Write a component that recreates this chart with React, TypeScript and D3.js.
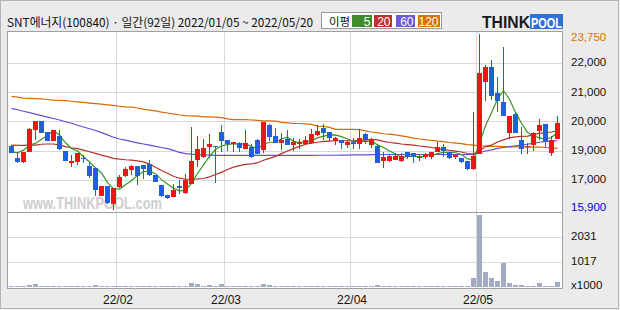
import React from 'react';
import * as d3 from 'd3';

const TITLE = 'SNT에너지(100840) · 일간(92일) 2022/01/05 ~ 2022/05/20';
const WATERMARK = 'www.THINKPOOL.com';
const MA_PERIODS = ['5', '20', '60', '120'];
const MONTH_LABELS = ['22/02', '22/03', '22/04', '22/05'];
const MONTH_START_INDEX = [18, 36, 57, 78];
const PRICE_MAX = 23750;
const PRICE_MIN = 15900;
const PRICE_TICKS = [17000, 19000, 20000, 21000, 22000];
const VOLUME_TICKS = [1017, 2031];
const VOLUME_TOP = 3000;
const VOLUME_UNIT = 'x1000';

const OPEN = [19170,18540,18260,18950,19710,20020,19640,19350,19510,19000,
18190,18260,18540,17970,17850,16400,16780,16120,16750,17300,
17690,17970,18030,18080,17340,16810,16430,16370,16770,16520,
16860,18380,18610,19130,19170,19640,19370,19240,19260,19080,
19150,19370,19030,19880,19510,19280,19410,19200,19240,19230,
19260,19540,19800,19640,19350,19370,19200,19320,19240,19580,
19200,19170,18330,18290,18380,18330,18910,18840,18500,18570,
18610,18950,19130,18910,18570,18500,18330,17740,18790,21370,
21860,20990,20680,19600,20260,19370,19140,19200,19690,19910,
18880,19400];
const HIGH = [19200,18950,18950,19780,20030,20030,19650,19730,19710,19010,
18720,18860,18720,18190,17870,16800,16800,16710,17340,17920,
18030,17990,18050,18380,17350,16820,16450,16850,17000,17410,
19810,19510,19400,19580,19180,19880,19380,19310,19320,19710,
19230,19420,20000,19940,19800,19600,19710,19450,19410,19510,
19740,19880,19920,19650,19480,19380,19370,19430,19740,19600,
19460,19240,18950,18700,18840,18840,18940,18880,18790,18860,
18950,19320,19240,18950,18790,18520,18350,20340,23750,21950,
22210,21540,22960,20200,20320,19820,19260,19660,20110,19920,
19510,20190];
const LOW = [18830,18190,18200,18950,19370,19600,19330,19340,19050,18320,
17920,18030,18150,17120,16400,16390,16090,15900,16690,17230,
17340,16810,17070,17300,16930,16370,16300,16360,16500,16500,
16850,17920,18540,18540,16880,18950,19010,18950,18950,19070,
18500,18770,18880,19350,19280,19030,19200,19010,19070,19220,
19250,19510,19370,19340,19200,19070,19090,19070,19070,19240,
19090,18190,17810,18270,18380,18260,18450,18190,18330,18450,
18450,18950,18610,18470,18470,18190,17690,17720,18790,20720,
20740,20340,20200,19410,19600,18790,18790,19010,19370,19150,
18660,19400];
const CLOSE = [18880,18260,18950,19760,20020,19620,19350,19710,19060,18330,
18310,18840,18470,17300,16620,16770,16150,16690,17230,17740,
17970,17300,17760,17340,16940,16400,16330,16650,16690,17050,
18310,19070,19110,19240,19150,19340,19240,19300,19110,19260,
18610,18790,19990,19490,19280,19370,19200,19320,19300,19370,
19580,19680,19620,19430,19430,19260,19320,19230,19430,19370,
19410,18190,18610,18680,18680,18680,18610,18570,18610,18770,
18910,19130,19000,18540,18720,18260,17740,18660,21650,21860,
20890,20720,20200,20190,19600,19060,19160,19600,19880,19320,
19370,19970];
const VOLUME = [40,35,45,80,130,40,35,40,45,38,
42,36,35,40,90,45,40,50,38,35,
36,34,33,35,38,40,36,38,35,42,
175,125,45,90,50,125,40,36,35,38,
40,42,125,90,40,38,36,35,34,36,
38,35,36,33,34,35,32,33,36,34,
35,90,45,38,36,35,34,33,35,36,
34,40,36,35,33,34,38,345,2935,590,
345,225,965,155,100,100,60,60,155,60,
60,195];
const MA5 = [18950,18880,19030,19200,19260,19400,19540,19690,19550,19280,
19090,19000,18610,18250,17850,17500,16910,16680,16670,16830,
16980,17330,17600,17620,17450,17040,16860,16700,16600,16620,
16880,17460,18030,18640,19050,19180,19220,19250,19230,19250,
19150,19080,19220,19300,19300,19410,19470,19330,19290,19310,
19350,19450,19510,19540,19550,19490,19410,19330,19330,19320,
19350,19210,19120,19000,18790,18550,18630,18630,18620,18640,
18690,18820,18910,18900,18880,18760,18460,18390,19270,19860,
20310,20780,21060,20770,20320,19950,19630,19520,19450,19400,
19460,19630];
const MA20 = [19200,19190,19190,19200,19200,19230,19240,19240,19200,19150,
19110,19080,19030,18950,18840,18720,18610,18500,18440,18400,
18370,18320,18260,18100,17890,17670,17480,17270,17140,17070,
17070,17090,17120,17230,17390,17540,17740,17900,18000,18090,
18120,18200,18370,18500,18630,18820,19000,19080,19160,19230,
19270,19300,19330,19340,19350,19350,19350,19350,19370,19370,
19400,19380,19330,19290,19270,19240,19220,19200,19170,19150,
19120,19090,19060,19020,18990,18930,18830,18790,19010,19150,
19200,19310,19380,19450,19480,19500,19510,19550,19610,19630,
19650,19690];
const MA60 = [20460,20410,20360,20310,20260,20210,20160,20110,20060,20000,
19950,19880,19820,19760,19700,19630,19550,19470,19410,19370,
19320,19280,19240,19200,19160,19120,19080,19020,18900,18820,
18780,18750,18730,18720,18700,18700,18700,18700,18700,18700,
18700,18700,18700,18700,18700,18700,18700,18700,18700,18700,
18700,18710,18710,18710,18710,18720,18720,18730,18730,18740,
18750,18750,18760,18760,18760,18760,18760,18760,18760,18760,
18760,18760,18760,18760,18760,18760,18760,18760,18890,19000,
19040,19090,19120,19150,19180,19210,19230,19270,19300,19330,
19340,19350];
const MA120 = [20870,20840,20810,20800,20790,20780,20760,20740,20730,20720,
20700,20680,20660,20640,20620,20600,20580,20560,20530,20510,
20500,20470,20430,20400,20370,20330,20300,20270,20230,20210,
20200,20190,20170,20170,20160,20140,20100,20070,20070,20070,
20060,20050,20030,20030,20020,19980,19960,19940,19940,19930,
19910,19850,19840,19810,19740,19740,19740,19740,19730,19690,
19650,19620,19590,19580,19550,19520,19480,19440,19410,19390,
19360,19340,19320,19290,19270,19250,19220,19200,19180,19170,
19160,19160,19150,19140,19140,19140,19130,19130,19130,19120,
19110,19090];

const MA_SERIES = [MA5, MA20, MA60, MA120];
const MA_LINE_COLORS = ['#3a9424', '#b8302c', '#5e50d8', '#d56c00'];
const MA_BOX_COLORS = ['#3f8c2c', '#c0322c', '#6a5ad8', '#d87200'];
const UP = '#f01414';
const DOWN = '#1f5fe0';
const VOL_COLOR = '#a2abc3';
const GRID = '#d8d8d8';
const FRAME = '#a0a0a0';

export default function App() {
  const W = 620, H = 310;
  const L = 7, R = 562, T = 31, PB = 212, VB = 288;
  const n = CLOSE.length;
  const step = 6;
  const x = d3.scaleBand<number>().domain(d3.range(n)).range([9, 9 + step * n]).padding(0);
  const cx = (i: number) => (x(i) as number) + 2.5;

  const pDomain = [PRICE_MIN, ...PRICE_TICKS, PRICE_MAX];
  const yBottom = 209.5, yTop = 34;
  const y = d3.scaleLinear()
    .domain(pDomain)
    .range(pDomain.map((_, k) => yBottom - (k * (yBottom - yTop)) / (pDomain.length - 1)));
  const yv = d3.scaleLinear().domain([0, VOLUME_TOP]).range([287, 213]);
  const fmt = d3.format(',');

  const line = d3.line<number>().x((_, i) => cx(i)).y((v) => y(v));

  const rightLabels = [
    { v: PRICE_MAX, color: '#e07000' },
    ...PRICE_TICKS.slice().reverse().map((v) => ({ v, color: '#111' })),
    { v: PRICE_MIN, color: '#0000e6' },
  ];

  const font = "'Liberation Sans', Arial, sans-serif";
  const kfont = "'Noto Sans CJK KR', 'Liberation Sans', sans-serif";

  return (
    <svg width={W} height={H} style={{ position: 'absolute', left: 0, top: 0, display: 'block' }}
      xmlns="http://www.w3.org/2000/svg">
      <defs>
        <clipPath id="pclip"><rect x={L + 1} y={T + 1} width={R - L - 1} height={PB - T - 1} /></clipPath>
        <clipPath id="vclip"><rect x={L + 1} y={PB + 1} width={R - L - 1} height={VB - PB - 1} /></clipPath>
      </defs>
      <rect x={0} y={0} width={W} height={H} fill="#ebebeb" />
      <rect x={0.5} y={0.5} width={W - 2} height={H - 2} fill="none" stroke="#b4b4b4" />

      {/* header */}
      <text x={7} y={27} fontSize={12} fontFamily={kfont} fill="#111" textLength={306} lengthAdjust="spacingAndGlyphs">{TITLE}</text>
      <rect x={321.5} y={12.5} width={120} height={16} fill="#fff" stroke="#9a9a9a" />
      <text x={329} y={25.5} fontSize={11.5} fontFamily={kfont} fill="#111">이평</text>
      {[[352, 372], [374, 392], [396, 415], [418, 440]].map(([a, b], k) => (
        <g key={k}>
          <rect x={a} y={15} width={b - a} height={12} fill={MA_BOX_COLORS[k]} />
          <text x={b - 1.5} y={25.5} fontSize={12} fontFamily={font} fill="#fff" textAnchor="end">{MA_PERIODS[k]}</text>
        </g>
      ))}
      {/* logo */}
      <text x={482} y={28} fontSize={16} fontWeight={900} fontFamily={font} fill="#1a1a1a" textLength={48} lengthAdjust="spacingAndGlyphs">THINK</text>
      <rect x={530} y={14} width={33} height={15} fill="#2f6fd8" />
      <text x={531} y={27.5} fontSize={14.5} fontWeight={900} fontFamily={font} fill="#fff" textLength={31} lengthAdjust="spacingAndGlyphs">POOL</text>

      {/* plot background */}
      <rect x={L} y={T} width={R - L} height={VB - T} fill="#fff" />

      {/* watermark */}
      <text x={23} y={208.5} fill="#cdcdcd" fontFamily={font} fontWeight={900} fontSize={17}
        textLength={139} lengthAdjust="spacingAndGlyphs">{WATERMARK}</text>

      {/* grid */}
      <g stroke={GRID} strokeWidth={1} shapeRendering="crispEdges">
        {PRICE_TICKS.map((v) => (
          <line key={'p' + v} x1={L} x2={R} y1={Math.floor(y(v)) + 0.5} y2={Math.floor(y(v)) + 0.5} />
        ))}
        {VOLUME_TICKS.map((v) => (
          <line key={'v' + v} x1={L} x2={R} y1={Math.round(yv(v)) + 0.5} y2={Math.round(yv(v)) + 0.5} />
        ))}
        {MONTH_START_INDEX.map((i) => (
          <line key={'m' + i} x1={(x(i) as number) - 0.5} x2={(x(i) as number) - 0.5} y1={T} y2={VB} />
        ))}
      </g>

      {/* moving averages */}
      <g clipPath="url(#pclip)" fill="none" strokeWidth={1.2}>
        {MA_SERIES.slice().reverse().map((s, k) => (
          <path key={k} d={line(s) || ''} stroke={MA_LINE_COLORS[3 - k]} />
        ))}
      </g>

      {/* candles */}
      <g clipPath="url(#pclip)" shapeRendering="crispEdges">
        {CLOSE.map((c, i) => {
          const o = OPEN[i];
          const col = c >= o ? UP : DOWN;
          const top = y(Math.max(o, c));
          const bot = y(Math.min(o, c));
          const x0 = x(i) as number;
          return (
            <g key={i}>
              <line x1={cx(i)} x2={cx(i)} y1={y(HIGH[i])} y2={y(LOW[i])} stroke={col} strokeWidth={1} />
              <rect x={x0} y={top} width={5} height={Math.max(1, bot - top)} fill={col} />
            </g>
          );
        })}
      </g>

      {/* volume */}
      <g clipPath="url(#vclip)" shapeRendering="crispEdges" fill={VOL_COLOR}>
        {VOLUME.map((v, i) => {
          const top = Math.min(yv(v), yv(0) - 1);
          return <rect key={i} x={x(i) as number} y={top} width={5} height={yv(0) - top} />;
        })}
      </g>

      {/* frame */}
      <g fill="none" stroke={FRAME} strokeWidth={1} shapeRendering="crispEdges">
        <rect x={L + 0.5} y={T + 0.5} width={R - L} height={VB - T} />
        <line x1={L} x2={R + 1} y1={PB + 0.5} y2={PB + 0.5} />
      </g>

      {/* right axis labels */}
      <g fontFamily={font} fontSize={11.5} dominantBaseline="middle">
        {rightLabels.map((d, k) => (
          <text key={k} x={571} y={Math.min(Math.max(y(d.v), 37.5), 207.5)} fill={d.color}>{fmt(d.v)}</text>
        ))}
        {VOLUME_TICKS.map((v) => (
          <text key={'vt' + v} x={571} y={yv(v) + 0.5} fill="#111">{v}</text>
        ))}
        <text x={571} y={Math.min(yv(0), 285.5)} fill="#111">{VOLUME_UNIT}</text>
      </g>

      {/* month labels */}
      <g fontFamily={font} fontSize={12} textAnchor="middle" fill="#111">
        {MONTH_LABELS.map((m, k) => (
          <text key={m} x={(x(MONTH_START_INDEX[k]) as number) + 1} y={304}>{m}</text>
        ))}
      </g>
    </svg>
  );
}
